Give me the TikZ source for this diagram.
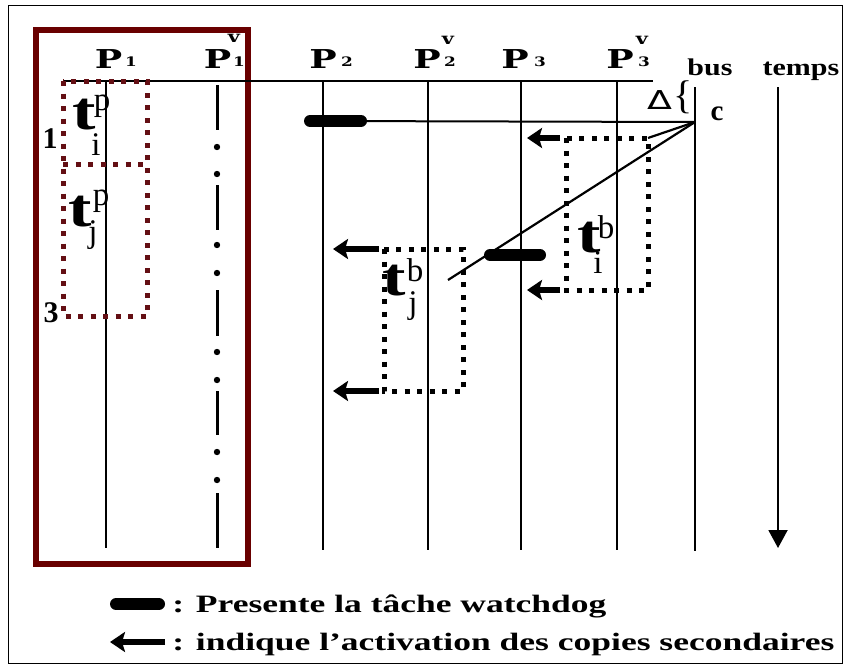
\documentclass[tikz,border=0pt]{standalone}
\usepackage{fontspec}
\setmainfont{Liberation Serif}
\newfontfamily\pfont{DejaVu Serif}
\newfontfamily\symfont{DejaVu Sans}
\usetikzlibrary{arrows.meta}
\definecolor{boxred}{RGB}{105,0,0}
\definecolor{dotred}{RGB}{100,15,20}

\begin{document}
\begin{tikzpicture}[x=1pt,y=-1pt,
  proc/.style={line width=2pt},
  wdog/.style={line width=12pt, line cap=round},
  act/.style={line width=6.5pt, -{Stealth[length=15pt,width=20pt,inset=3pt]}},
  bdots/.style={line width=5pt, dash pattern=on 5pt off 7.5pt},
  rdots/.style={bdots, draw=dotred},
  plab/.style={font=\pfont\bfseries\fontsize{26}{26}\selectfont, xscale=1.4, inner sep=0pt},
  psub/.style={font=\pfont\bfseries\fontsize{13}{13}\selectfont, xscale=1.3, inner sep=0pt},
  pv/.style={font=\pfont\bfseries\fontsize{16}{16}\selectfont, xscale=1.3, inner sep=0pt},
  hdr/.style={font=\bfseries\fontsize{24}{24}\selectfont, xscale=1.25, inner sep=0pt, anchor=base},
  tbig/.style={font=\bfseries\fontsize{54}{54}\selectfont, xscale=1.3, inner sep=0pt},
  tsml/.style={font=\fontsize{33}{33}\selectfont, inner sep=0pt},
  num/.style={font=\bfseries\fontsize{30}{30}\selectfont, inner sep=0pt},
  legend/.style={font=\bfseries\fontsize{25}{25}\selectfont, xscale=1.42, inner sep=0pt, anchor=base west}
]
\useasboundingbox (0,0) rectangle (850,669);
\fill[white] (0,0) rectangle (850,669);
\draw[line width=1pt] (8.5,6) rectangle (842,663);

% processor (primary) group frame
\draw[boxred, line width=6pt] (36,30.5) rectangle (248,563.5);

% time axis origin
\coordinate (top0) at (63,81);
\coordinate (top1) at (653,81);
\draw[line width=2.2pt] (top0) -- (top1);

% processor lines
\foreach \n/\x/\b in {p1/106/548, p2/323/550, p2v/428/550, p3/521/550, p3v/617/550}{
  \coordinate (\n-t) at (\x,81);
  \coordinate (\n-b) at (\x,\b);
  \draw[proc] (\n-t) -- (\n-b);
}
% bus
\coordinate (bus-t) at (695,87);
\coordinate (bus-b) at (695,551);
\draw[proc] (bus-t) -- (bus-b);
% time arrow
\coordinate (tm-t) at (778,87);
\coordinate (tm-b) at (778,548);
\draw[line width=2pt, -{Triangle[length=18pt,width=19pt]}] (tm-t) -- (tm-b);

% P1 spare: dash-dot line
\foreach \a/\e in {85/130, 185/230, 290/336, 391/435, 493/548}{
  \draw[line width=3pt] (217,\a) -- (217,\e);
}
\foreach \d in {147,174,245,273,352,380,452,480}{
  \fill (217,\d) circle (3.2pt);
}

% headers
\node[plab] (P1) at (108.5,59.5) {P};
\node[psub] (P1s) at (131,62) {1};
\node[plab] (P1v) at (217.5,59.5) {P};
\node[psub] (P1vs) at (239,62) {1};
\node[pv] (P1vv) at (234,38) {v};
\node[plab] (P2) at (323,59.5) {P};
\node[psub] (P2s) at (347,62) {2};
\node[plab] (P2v) at (427,59.5) {P};
\node[psub] (P2vs) at (450,62) {2};
\node[pv] (P2vv) at (448,40) {v};
\node[plab] (P3) at (515,59.5) {P};
\node[psub] (P3s) at (540,62) {3};
\node[plab] (P3v) at (620,59.5) {P};
\node[psub] (P3vs) at (644,62) {3};
\node[pv] (P3vv) at (642,40) {v};
\node[hdr] (bus) at (710,75) {bus};
\node[hdr] (temps) at (801,75) {temps};

% delta, brace and instant c
\node[font=\symfont\fontsize{26}{26}\selectfont, xscale=1.4, inner sep=0pt] (delta) at (659.5,100) {Δ};
\node[font=\fontsize{40}{40}\selectfont, inner sep=0pt] (brace) at (683,97) {\{};
\node[font=\bfseries\fontsize{29}{29}\selectfont, inner sep=0pt] (c) at (717,114) {c};
\coordinate (cpt) at (695,122);

% watchdog on P2 and its message on the bus
\coordinate (w2) at (323,121);
\draw[line width=2pt] (w2) -- (cpt);
\draw[wdog] (310,121) -- (361,121);

% backup copy of t_i on P3 spare
\coordinate (bi-tl) at (566,138);
\coordinate (bi-br) at (648,290);
\draw[bdots] (bi-tl) rectangle (bi-br);
\coordinate (bi-tr) at (648,138);
\draw[line width=2.2pt] (cpt) -- (bi-tr);
\coordinate (bi-a1) at (560,138);
\coordinate (bi-a1e) at (527,138);
\coordinate (bi-a2) at (560,290);
\coordinate (bi-a2e) at (527,290);
\draw[act] (bi-a1) -- (bi-a1e);
\draw[act] (bi-a2) -- (bi-a2e);

% long signal line and watchdog on P3
\coordinate (sl) at (448,280);
\draw[line width=2.2pt] (cpt) -- (sl);
\draw[wdog] (490,255) -- (540,255);

% backup copy of t_j on P2 spare
\coordinate (bj-tl) at (384,249);
\coordinate (bj-br) at (463,391);
\draw[bdots] (bj-tl) rectangle (bj-br);
\coordinate (bj-a1) at (379,249);
\coordinate (bj-a1e) at (333,249);
\coordinate (bj-a2) at (379,391);
\coordinate (bj-a2e) at (333,391);
\draw[act] (bj-a1) -- (bj-a1e);
\draw[act] (bj-a2) -- (bj-a2e);

% primary copies on P1
\draw[rdots] (63,81) rectangle (147,316);
\draw[rdots] (63,164) -- (147,164);
\node[num] (n1) at (50,138.5) {1};
\node[num] (n3) at (51,313) {3};

% task labels
\node[tbig] (tip) at (84,115) {t};
\node[tsml] (tips) at (102,106) {p};
\node[tsml] (tipi) at (96,145) {i};
\node[tbig] (tjp) at (80,212) {t};
\node[tsml] (tjps) at (101,201) {p};
\node[tsml] (tjpi) at (93,235) {j};
\node[tbig] (tib) at (589,238) {t};
\node[tsml] (tibs) at (606,227) {b};
\node[tsml] (tibi) at (598,263) {i};
\node[tbig] (tjb) at (394,281) {t};
\node[tsml] (tjbs) at (415,270) {b};
\node[tsml] (tjbi) at (413,306) {j};

% legend
\coordinate (lw) at (116,604);
\coordinate (lwe) at (159,604);
\draw[wdog] (lw) -- (lwe);
\node[legend] (leg1) at (172,612) {: Presente la tâche watchdog};
\coordinate (la) at (165,642);
\coordinate (lae) at (110,642);
\draw[act] (la) -- (lae);
\node[legend] (leg2) at (172,650) {: indique l’activation des copies secondaires};
\end{tikzpicture}
\end{document}
